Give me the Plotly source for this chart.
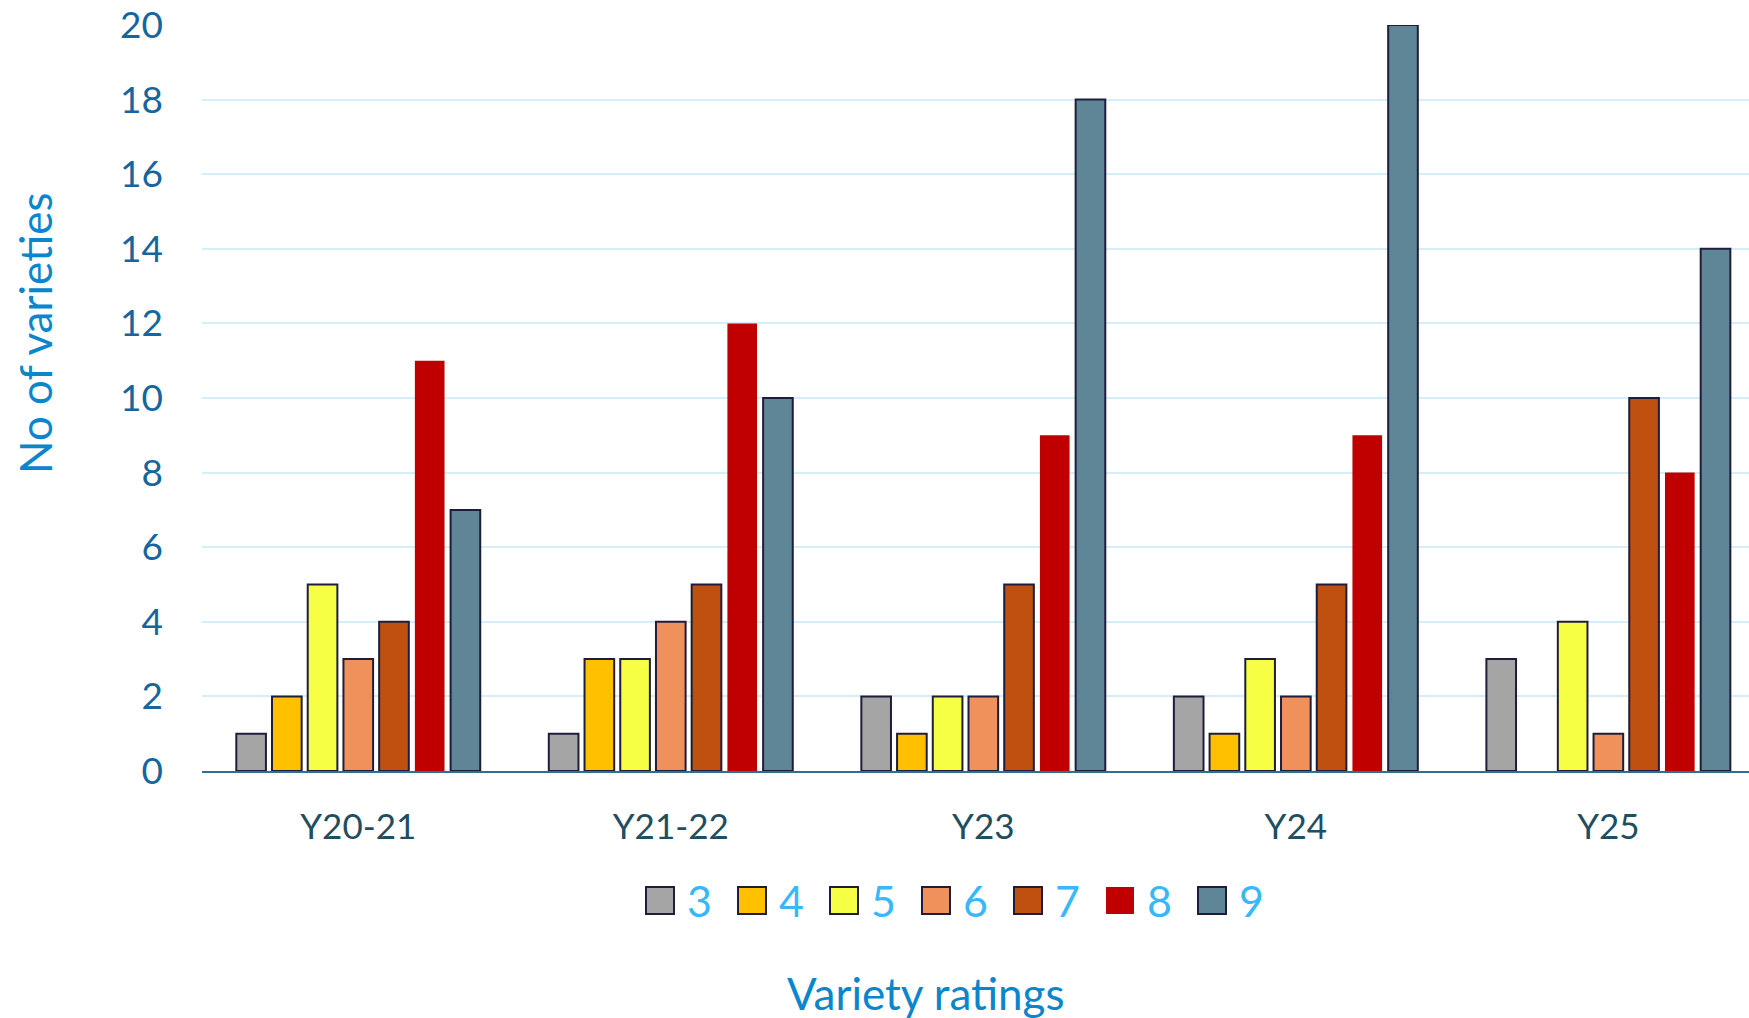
import plotly.graph_objects as go

categories = ["Y20-21", "Y21-22", "Y23", "Y24", "Y25"]
ratings = ["3", "4", "5", "6", "7", "8", "9"]
r3 = [1, 1, 2, 2, 3]
r4 = [2, 3, 1, 1, 0]
r5 = [5, 3, 2, 3, 4]
r6 = [3, 4, 2, 2, 1]
r7 = [4, 5, 5, 5, 10]
r8 = [11, 12, 9, 9, 8]
r9 = [7, 10, 18, 20, 14]
series = [r3, r4, r5, r6, r7, r8, r9]
colors = ["#A5A5A5", "#FFC000", "#F7FF45", "#F0915C", "#C05010", "#C00000", "#5F8696"]
outline = "#1E1E3C"

FONT = "Lato"
W, H = 1749, 1018
L, R, T, B = 202, 0, 25, 247
PW, PH = W - L - R, H - T - B


def px_x(px):
    return (px - L) / PW


def px_y(py):
    return (H - B - py) / PH


fig = go.Figure()
for name, vals, col in zip(ratings, series, colors):
    base_w = 0 if name == "8" else 2
    fig.add_trace(go.Bar(
        x=categories, y=vals, name=name, showlegend=False,
        marker=dict(color=col, line=dict(color=outline,
                                         width=[base_w if v else 0 for v in vals])),
    ))

# custom legend (larger swatches, like the reference)
shapes = []
annotations = []
for i, (name, col) in enumerate(zip(ratings, colors)):
    x0 = 646 + 92 * i
    lw = 0 if name == "8" else 2
    shapes.append(dict(
        type="rect", xref="paper", yref="paper",
        x0=px_x(x0), x1=px_x(x0 + 28), y0=px_y(914), y1=px_y(887),
        fillcolor=col, line=dict(color=outline, width=lw),
    ))
    annotations.append(dict(
        xref="paper", yref="paper", x=px_x(x0 + 39), y=px_y(901),
        xanchor="left", yanchor="middle", showarrow=False,
        text=name, font=dict(size=43, color="#38B8F8", family=FONT),
    ))

annotations.append(dict(
    xref="paper", yref="paper", x=px_x(926), y=px_y(993),
    xanchor="center", yanchor="middle", showarrow=False,
    text="Variety ratings", font=dict(size=44, color="#0A86CC", family=FONT),
))
annotations.append(dict(
    xref="paper", yref="paper", x=px_x(35), y=px_y(333),
    xanchor="center", yanchor="middle", showarrow=False, textangle=-90,
    text="No of varieties", font=dict(size=44, color="#0A86CC", family=FONT),
))

fig.update_layout(
    width=W, height=H,
    margin=dict(l=L, r=R, t=T, b=B, autoexpand=False),
    paper_bgcolor="white", plot_bgcolor="white",
    barmode="group", bargap=0.2, bargroupgap=0.17,
    font=dict(family=FONT),
    showlegend=False,
    shapes=shapes, annotations=annotations,
    xaxis=dict(
        range=[-0.5, 4.45], automargin=False,
        showline=True, linecolor="#2F6F8F", linewidth=2,
        ticks="", tickfont=dict(size=35, color="#1F4E5F", family=FONT),
        ticklabelstandoff=24,
    ),
    yaxis=dict(
        range=[0, 20], dtick=2, automargin=False,
        showgrid=True, gridcolor="#D6EEFA", gridwidth=2,
        zeroline=False, showline=False,
        tickfont=dict(size=37, color="#1565A0", family=FONT),
        ticklabelstandoff=38,
    ),
)

fig.write_html(
    "out.html",
    config={"displayModeBar": False},
    post_script="document.body.style.margin='0';document.body.style.overflow='hidden';",
)
